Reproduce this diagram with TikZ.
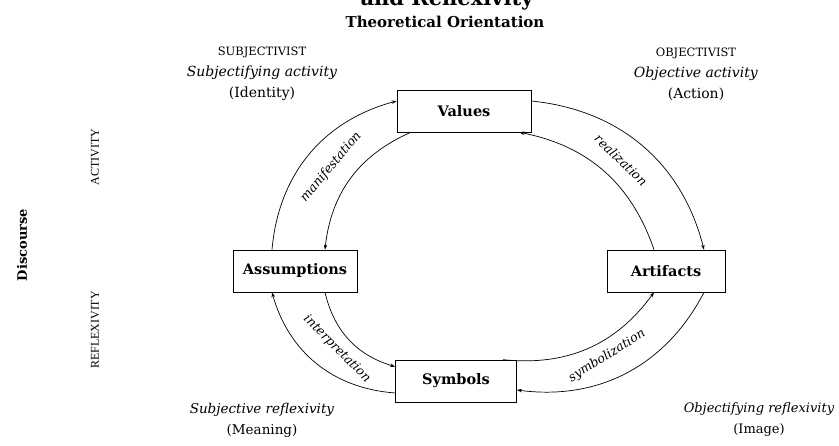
\documentclass[tikz,border=0pt]{standalone}
\usepackage{fontspec}
\setmainfont{DejaVu Serif}
\newfontfamily\narrowfont{Liberation Serif}
\usetikzlibrary{arrows.meta}

\begin{document}
\begin{tikzpicture}[x=1pt,y=-1pt,box/.style={draw,line width=0.7pt,minimum height=42pt,inner sep=0pt,font=\bfseries\fontsize{14.5}{16}\selectfont},arr/.style={-{Stealth[length=5pt,width=3.5pt]},line width=0.7pt},flow/.style={font=\itshape\fontsize{12.5}{14}\selectfont,inner sep=1pt},head/.style={align=center,font=\fontsize{14}{21}\selectfont},axis/.style={rotate=90,font=\narrowfont\fontsize{12}{14}\selectfont}]
\useasboundingbox (0,0) rectangle (839,446);
\node[font=\bfseries\fontsize{21}{24}\selectfont,anchor=base] (ttl) at (447,6) {and Reflexivity};
\node[font=\bfseries\fontsize{15}{17}\selectfont] (orient) at (445,22) {Theoretical Orientation};
\node[head] (subj) at (262,74) {{\fontsize{11.5}{21}\selectfont SUBJECTIVIST}\\\textit{Subjectifying activity}\\(Identity)};
\node[head] (obj) at (696,74) {{\fontsize{11.5}{21}\selectfont OBJECTIVIST}\\\textit{Objective activity}\\(Action)};
\node[head,font=\fontsize{13.5}{21}\selectfont] (subjr) at (262,420) {\textit{Subjective reflexivity}\\(Meaning)};
\node[head,font=\fontsize{13}{21}\selectfont] (objr) at (759,420) {\textit{Objectifying reflexivity}\\(Image)};
\node[rotate=90,font=\bfseries\fontsize{13}{15}\selectfont] (disc) at (22,245) {Discourse};
\node[axis] (act) at (95,157) {ACTIVITY};
\node[axis] (refl) at (95,330) {REFLEXIVITY};
\node[box,minimum width=134pt] (val) at (464,111) {Values};
\node[box,minimum width=124pt] (ass) at (295,271) {Assumptions};
\node[box,minimum width=118pt] (art) at (666,271) {Artifacts};
\node[box,minimum width=121pt] (sym) at (456,381) {Symbols};
\draw[arr] ([xshift=-23pt]ass.north) to[bend left=35] ([yshift=10pt]val.west);
\draw[arr] ([xshift=14pt]val.south west) to[bend right=30] ([xshift=30pt]ass.north);
\draw[arr] ([yshift=10pt]val.east) to[bend left=35] ([xshift=38pt]art.north);
\draw[arr] ([xshift=-12pt]art.north) to[bend right=30] ([xshift=-12pt]val.south east);
\draw[arr] ([xshift=30pt]ass.south) to[bend right=30] ([yshift=-7pt]sym.north west);
\draw[arr] ([yshift=-12pt]sym.west) to[bend left=35] ([xshift=-23pt]ass.south);
\draw[arr] ([xshift=-14pt]sym.north east) to[bend right=30] ([xshift=-12pt]art.south);
\draw[arr] ([xshift=38pt]art.south) to[bend left=35] ([yshift=-9pt]sym.east);
\node[flow,rotate=50] (mani) at (331,167) {manifestation};
\node[flow,rotate=-44] (real) at (621,160) {realization};
\node[flow,rotate=-45] (interp) at (337,349) {interpretation};
\node[flow,rotate=32] (symb) at (607,356) {symbolization};
\end{tikzpicture}
\end{document}
